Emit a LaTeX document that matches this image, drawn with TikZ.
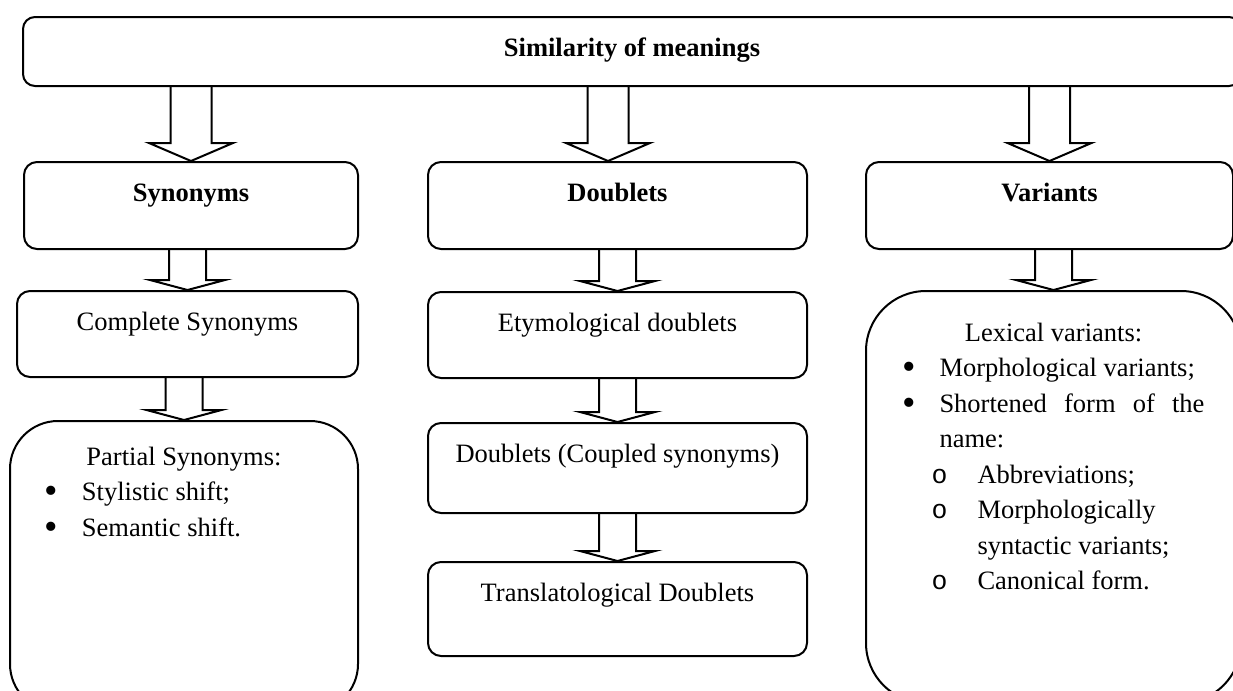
\documentclass[tikz,border=0pt]{standalone}
\usepackage{fontspec}
\setmainfont{Liberation Serif}
\setmonofont{Liberation Mono}
\usetikzlibrary{positioning, calc}
\newcommand{\bigbul}{\raisebox{-0.12em}{\scalebox{1.45}{\textbullet}}}

\begin{document}
\begin{tikzpicture}[
        x=0.5pt, y=-0.5pt,
        node distance=20.5pt,
        base/.style={draw, line width=1pt, rounded corners=6.5pt, align=center, inner ysep=0pt, font=\fontsize{13.25pt}{17.75pt}\selectfont},
        headbox/.style={base, rounded corners=6pt, minimum width=609pt, text height=19.5pt, text depth=15pt, font=\fontsize{13.25pt}{17.75pt}\selectfont\bfseries},
        catbox/.style={base, text height=19.75pt, text depth=23.75pt, font=\fontsize{13.25pt}{17.75pt}\selectfont\bfseries},
        subbox/.style={base, text height=19.75pt, text depth=#1},
        subbox/.default=23.25pt,
        listbox/.style={base, inner sep=0pt, align=left},
        blockarr/.style n args={3}{line width=1pt, to path={let \p1=(\tikztostart), \p2=(\tikztotarget) in
            (\x2-#1,\y1) -- (\x2-#1,\y2+#3) -- (\x2-#2,\y2+#3) -- (\x2,\y2)
            -- (\x2+#2,\y2+#3) -- (\x2+#1,\y2+#3) -- (\x2+#1,\y1)}},
        bigarr/.style={blockarr={10.25pt}{21pt}{9pt}},
        smallarr/.style={blockarr={9.25pt}{18.75pt}{5pt}}
    ]
    \useasboundingbox (0,0) rectangle (1233,691);
    \clip (0,0) rectangle (1233,691);

    \node[headbox, anchor=north west] (top) at (22,16) {Similarity of meanings};

    \node[catbox, anchor=north west, minimum width=167pt] (syn) at (23,161) {Synonyms};
    \node[catbox, anchor=north west, minimum width=189.5pt] (dbl) at (427,161) {Doublets};
    \node[catbox, anchor=north west, minimum width=183.5pt] (var) at (865,161) {Variants};

    \node[subbox, minimum width=170.5pt, below=20pt of syn.south east, anchor=north east] (comp) {Complete Synonyms};
    \node[listbox, rounded corners=24pt, minimum width=174pt, below=21pt of comp.south east, anchor=north east] (part)
        {\parbox[t][145.5pt][t]{140pt}{\centering\rule{0pt}{22pt}Partial Synonyms:\par
            \raggedright
            \makebox[19pt][l]{\bigbul}Stylistic shift;\par
            \makebox[19pt][l]{\bigbul}Semantic shift.}};

    \node[subbox, minimum width=189.5pt, below=of dbl] (ety) {Etymological doublets};
    \node[subbox=25.25pt, minimum width=189.5pt, below=21.5pt of ety] (cpl) {Doublets (Coupled synonyms)};
    \node[subbox=27.25pt, minimum width=189.5pt, below=23.5pt of cpl] (trl) {Translatological Doublets};

    \node[listbox, rounded corners=30pt, minimum width=187.5pt, below=20pt of var.south west, anchor=north west] (lex)
        {\parbox[t][206pt][t]{151pt}{\centering\rule{0pt}{25pt}Lexical variants:\par
            \raggedright
            \makebox[18.5pt][l]{\bigbul}Morphological variants;\par
            \makebox[18.5pt][l]{\bigbul}\makebox[132.5pt][s]{Shortened form of the}\par
            \hspace*{18.5pt}name:\par
            \hspace*{14.5pt}\makebox[23pt][l]{\texttt{o}}Abbreviations;\par
            \hspace*{14.5pt}\makebox[23pt][l]{\texttt{o}}Morphologically\par
            \hspace*{37.5pt}syntactic variants;\par
            \hspace*{14.5pt}\makebox[23pt][l]{\texttt{o}}Canonical form.}};

    \draw[bigarr] (top.south) to (syn.north);
    \draw[bigarr] (top.south) to ([xshift=-4.75pt]dbl.north);
    \draw[bigarr] (top.south) to (var.north);
    \draw[smallarr] (syn.south) to (comp.north);
    \draw[smallarr] (comp.south) to (part.north);
    \draw[smallarr] (dbl.south) to (ety.north);
    \draw[smallarr] (ety.south) to (cpl.north);
    \draw[smallarr] (cpl.south) to (trl.north);
    \draw[smallarr] (var.south) to (lex.north);
\end{tikzpicture}
\end{document}
